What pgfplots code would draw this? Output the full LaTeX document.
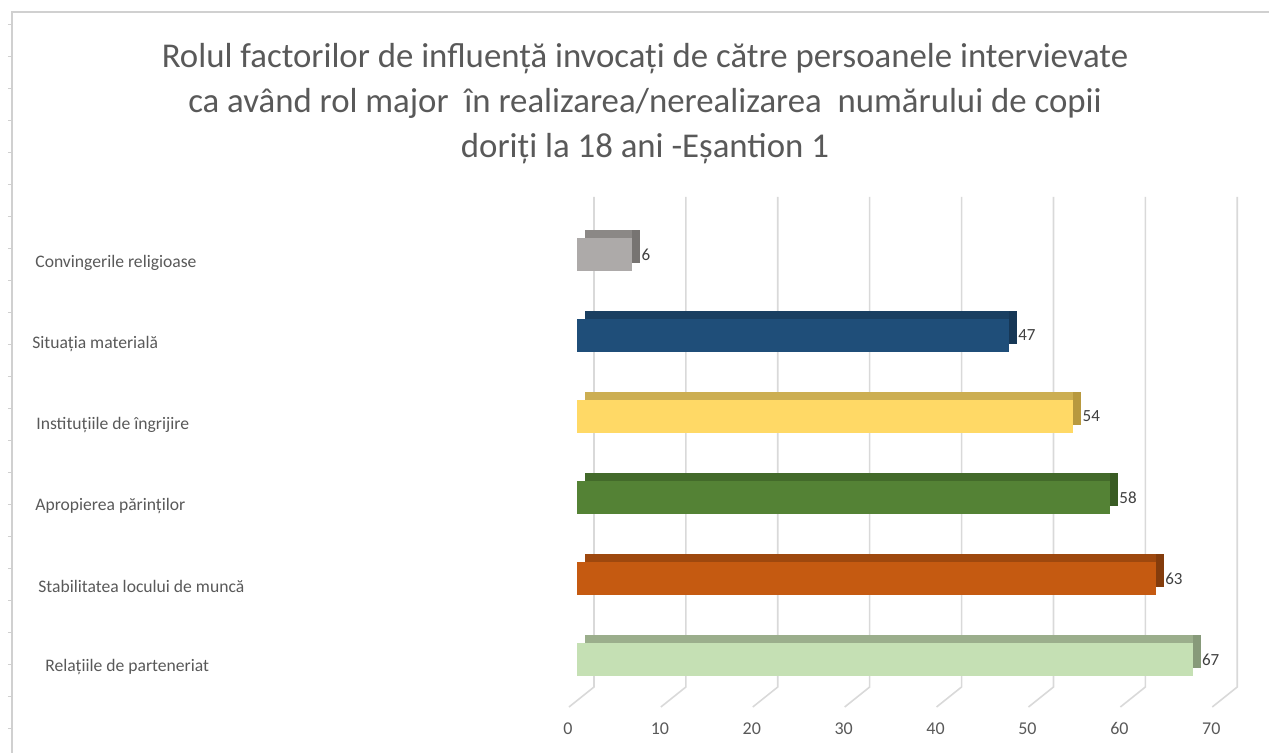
\documentclass[border=0pt]{standalone}
\usepackage{fontspec}
\setmainfont{Carlito}
\usepackage{pgfplots}
\pgfplotsset{compat=1.18}

\definecolor{txt}{HTML}{595959}
\definecolor{val}{HTML}{404040}
\definecolor{gridc}{HTML}{D9D9D9}
\definecolor{framec}{HTML}{D0D0D0}
% front / top / side faces
\definecolor{c1f}{HTML}{ADAAA9}\definecolor{c1t}{HTML}{8B8886}\definecolor{c1s}{HTML}{777472}
\definecolor{c2f}{HTML}{1F4E79}\definecolor{c2t}{HTML}{1A3F61}\definecolor{c2s}{HTML}{163756}
\definecolor{c3f}{HTML}{FFD966}\definecolor{c3t}{HTML}{CCAE52}\definecolor{c3s}{HTML}{B8993F}
\definecolor{c4f}{HTML}{548235}\definecolor{c4t}{HTML}{436A2A}\definecolor{c4s}{HTML}{3A5C24}
\definecolor{c5f}{HTML}{C55A11}\definecolor{c5t}{HTML}{9E480E}\definecolor{c5s}{HTML}{843C0C}
\definecolor{c6f}{HTML}{C5E0B4}\definecolor{c6t}{HTML}{9BAE8C}\definecolor{c6s}{HTML}{879A7A}

% one 3d bar: y, value, front, top, side
\newcommand\threebar[5]{%
  \addplot[draw=none, fill=#5, xshift=4pt, yshift=4pt] coordinates {(#2,#1)};
  \addplot[draw=none, fill=#4, xshift=4pt, yshift=4pt, x filter/.expression={x-0.87}] coordinates {(#2,#1)};
  \addplot[draw=none, fill=#3, nodes near coords] coordinates {(#2,#1)};
}

\begin{document}
\begin{tikzpicture}
\path[use as bounding box] (-288.5pt,-26.5pt) rectangle (346pt,350pt);
% chart frame
\draw[framec, line width=0.6pt] (-282.5pt,-26.5pt) -- (-282.5pt,344pt) -- (346pt,344pt);
\foreach \k in {0,...,22}{
  \draw[framec, line width=0.5pt] (-284.5pt,{350pt-(25+32*\k)*0.5pt}) -- (-282.5pt,{350pt-(25+32*\k)*0.5pt});
}
\begin{axis}[
  scale only axis, width=321.65pt, height=245pt,
  xmin=0, xmax=70, ymin=-0.5, ymax=5.55,
  clip=false,
  axis line style={draw=none},
  major tick length=0pt,
  xbar, bar width=16.5pt, bar shift=0pt,
  xtick={0,10,...,70},
  ytick={0,...,5},
  yticklabels={\hspace*{5pt}Relațiile de parteneriat,
               \hspace*{1.5pt}Stabilitatea locului de muncă,
               Apropierea părinților,
               \hspace*{0.5pt}Instituțiile de îngrijire,
               \hspace*{-1.5pt}Situația materială,
               Convingerile religioase},
  /pgf/number format/assume math mode=true,
  xticklabel style={font=\fontsize{9}{10}\selectfont, text=txt, anchor=north,
                    inner sep=0pt, yshift=-11pt, xshift=-4.5pt},
  yticklabel style={font=\fontsize{8.8}{10}\selectfont, text=txt, anchor=west,
                    inner sep=0pt, xshift=-271pt, yshift=-4pt},
  nodes near coords style={font=\fontsize{8.5}{10}\selectfont, text=val,
                           anchor=west, inner sep=0pt, xshift=4.5pt},
]
\pgfplotsinvokeforeach{0,10,...,70}{
  \draw[gridc, line width=0.8pt]
    ([xshift=-4pt,yshift=-3.5pt]axis cs:#1,-0.5) --
    ([xshift=8.5pt,yshift=6.5pt]axis cs:#1,-0.5) --
    ([xshift=8.5pt,yshift=6.5pt]axis cs:#1,5.55);
}
\threebar{5}{6}{c1f}{c1t}{c1s}
\threebar{4}{47}{c2f}{c2t}{c2s}
\threebar{3}{54}{c3f}{c3t}{c3s}
\threebar{2}{58}{c4f}{c4t}{c4s}
\threebar{1}{63}{c5f}{c5t}{c5s}
\threebar{0}{67}{c6f}{c6t}{c6s}
\end{axis}
\node[text=txt, align=center, font=\fontsize{17.4}{22.5}\selectfont] at (34pt,298.2pt)
  {Rolul factorilor de influență invocați de către persoanele intervievate\\
   ca având rol major\ \ în realizarea/nerealizarea\ \ numărului de copii\\
   doriți la 18 ani -Eșantion 1};
\end{tikzpicture}
\end{document}
